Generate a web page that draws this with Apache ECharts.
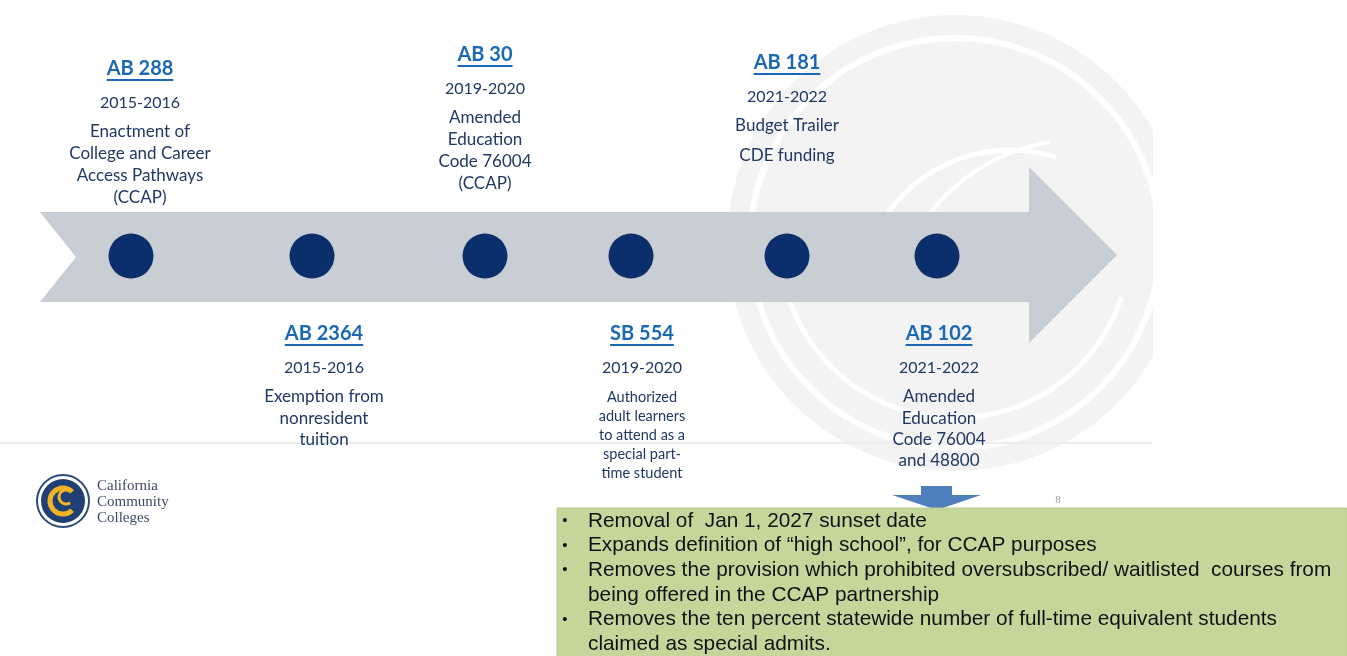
<!DOCTYPE html>
<html>
<head>
<meta charset="utf-8">
<script src="https://cdn.jsdelivr.net/npm/echarts@6/dist/echarts.min.js"></script>
<style>
  html, body { margin: 0; padding: 0; background: #fff; }
  #chart { width: 1347px; height: 656px; }
</style>
</head>
<body>
<div id="chart"></div>
<script>
// timeline data
const bills = ["AB 288", "AB 2364", "AB 30", "SB 554", "AB 181", "AB 102"];
const years = ["2015-2016", "2015-2016", "2019-2020", "2019-2020", "2021-2022", "2021-2022"];
const notes = [
  ["Enactment of", "College and Career", "Access Pathways", "(CCAP)"],
  ["Exemption from", "nonresident", "tuition"],
  ["Amended", "Education", "Code 76004", "(CCAP)"],
  ["Authorized", "adult learners", "to attend as a", "special part-", "time student"],
  ["Budget Trailer", "CDE funding"],
  ["Amended", "Education", "Code 76004", "and 48800"],
];
// position of each milestone along the arrow
const timelinePos = [131, 312, 485, 631, 787, 937];
const amendments = [
  ["Removal of  Jan 1, 2027 sunset date"],
  ["Expands definition of \u201chigh school\u201d, for CCAP purposes"],
  ["Removes the provision which prohibited oversubscribed/ waitlisted  courses from", "being offered in the CCAP partnership"],
  ["Removes the ten percent statewide number of full-time equivalent students", "claimed as special admits."],
];
const logoLines = ["California", "Community", "Colleges"];

// layout (pixels)
const W = 1347, H = 656;
const arrowY = 256;
const labelLayout = [
  { x: 140, top: 69, gap: 21.7, size: 17 },
  { x: 324, top: 334, gap: 21.5, size: 17 },
  { x: 485, top: 55, gap: 21.7, size: 17 },
  { x: 642, top: 334, gap: 19, size: 14.5 },
  { x: 787, top: 63, gap: 30, size: 17 },
  { x: 939, top: 334, gap: 21.2, size: 17 },
];
const textFont = "Lato, 'Open Sans', sans-serif";
const navy = "#1f3864";

const measureCtx = document.createElement("canvas").getContext("2d");
function textWidth(str, font) {
  measureCtx.font = font;
  return measureCtx.measureText(str).width;
}

const chart = echarts.init(document.getElementById("chart"), null, { renderer: "canvas" });

function renderLabel(params, api) {
  const i = params.dataIndex;
  const L = labelLayout[i];
  const p = api.coord([L.x, L.top]);
  const titleFont = "bold 20px " + textFont;
  const tw = textWidth(bills[i], titleFont);
  const children = [
    {
      type: "text",
      style: {
        x: p[0], y: p[1], text: bills[i], font: titleFont,
        fill: "#1a68b6", align: "center", verticalAlign: "middle",
      },
    },
    {
      type: "line",
      shape: { x1: p[0] - tw / 2, y1: p[1] + 11, x2: p[0] + tw / 2, y2: p[1] + 11 },
      style: { stroke: "#1a68b6", lineWidth: 1.8 },
    },
    {
      type: "text",
      style: {
        x: p[0], y: p[1] + 34, text: years[i], font: "16px " + textFont,
        fill: navy, align: "center", verticalAlign: "middle",
      },
    },
  ];
  notes[i].forEach((line, k) => {
    children.push({
      type: "text",
      style: {
        x: p[0], y: p[1] + 63 + k * L.gap, text: line, font: L.size + "px " + textFont,
        fill: navy, align: "center", verticalAlign: "middle",
      },
    });
  });
  return { type: "group", children };
}

// background watermark + decorations
const graphics = [
  { type: "circle", shape: { cx: 955, cy: 243, r: 228 }, style: { fill: "#f3f3f3" }, z: -10 },
  { type: "circle", shape: { cx: 955, cy: 243, r: 205 }, style: { fill: null, stroke: "#fff", lineWidth: 6 }, z: -9 },
  { type: "arc", shape: { cx: 955, cy: 243, r: 175, startAngle: Math.PI * 0.1, endAngle: Math.PI * 0.95 }, style: { stroke: "#fff", lineWidth: 5, fill: null }, z: -9 },
  { type: "arc", shape: { cx: 1010, cy: 300, r: 150, startAngle: Math.PI * 1.05, endAngle: Math.PI * 1.6 }, style: { stroke: "#fff", lineWidth: 5, fill: null }, z: -9 },
  { type: "arc", shape: { cx: 1080, cy: 330, r: 190, startAngle: Math.PI * 1.1, endAngle: Math.PI * 1.45 }, style: { stroke: "#fff", lineWidth: 4, fill: null }, z: -9 },
  { type: "rect", shape: { x: 1153, y: 0, width: 200, height: 480 }, style: { fill: "#fff" }, z: -8 },
  { type: "line", shape: { x1: 0, y1: 443, x2: 1152, y2: 443 }, style: { stroke: "#ececec", lineWidth: 2 }, z: -8 },
  // timeline arrow
  {
    type: "polygon",
    shape: {
      points: [[40, arrowY - 44], [1029, arrowY - 44], [1029, arrowY - 89], [1117, arrowY - 1],
        [1029, arrowY + 87], [1029, arrowY + 46], [40, arrowY + 46], [76, arrowY + 1]],
    },
    style: { fill: "#c9cdd4" }, z: -5,
  },
  // down arrow pointing to box
  {
    type: "polygon",
    shape: { points: [[921, 486], [952, 486], [952, 495], [981, 495], [937, 510], [892, 495], [921, 495]] },
    style: { fill: "#4f7fbd" },
  },
  { type: "text", style: { x: 1058, y: 500, text: "8", font: "11px 'Liberation Serif'", fill: "#9a9a9a", align: "center", verticalAlign: "middle" } },
  // logo
  { type: "circle", shape: { cx: 63, cy: 501, r: 26 }, style: { fill: "#fff", stroke: "#2b4a7a", lineWidth: 2 } },
  { type: "circle", shape: { cx: 63, cy: 501, r: 22 }, style: { fill: "#1f3f75" } },
  { type: "arc", shape: { cx: 63, cy: 501, r: 13, startAngle: Math.PI * 0.25, endAngle: Math.PI * 1.75, clockwise: true }, style: { stroke: "#f0b323", lineWidth: 5, fill: null } },
  { type: "arc", shape: { cx: 66, cy: 497, r: 7, startAngle: Math.PI * 0.3, endAngle: Math.PI * 1.7 }, style: { stroke: "#f0b323", lineWidth: 3, fill: null } },
];
logoLines.forEach((t, k) => {
  graphics.push({
    type: "text",
    style: { x: 97, y: 486 + k * 16, text: t, font: "15px 'Liberation Serif', serif", fill: "#3d4a68", verticalAlign: "middle" },
  });
});
// green amendment box
graphics.push({ type: "rect", shape: { x: 557, y: 508, width: 790, height: 150 }, style: { fill: "#c4d79b", stroke: "#b8cc8c", lineWidth: 1 } });
let row = 0;
amendments.forEach((item) => {
  item.forEach((line, k) => {
    const y = 521 + row * 24.6;
    if (k === 0) {
      graphics.push({ type: "text", style: { x: 565, y: y, text: "\u2022", font: "15px 'Liberation Sans'", fill: "#111", align: "center", verticalAlign: "middle" } });
    }
    graphics.push({ type: "text", style: { x: 588, y: y, text: line, font: "20.8px 'Liberation Sans', Arial, sans-serif", fill: "#111", verticalAlign: "middle" } });
    row++;
  });
});

const option = {
  animation: false,
  backgroundColor: "#fff",
  grid: { left: 0, right: 0, top: 0, bottom: 0 },
  xAxis: { type: "value", min: 0, max: W, show: false },
  yAxis: { type: "value", min: 0, max: H, inverse: true, show: false },
  graphic: graphics,
  series: [
    {
      type: "scatter",
      symbol: "circle",
      symbolSize: 45,
      itemStyle: { color: "#0b2f6c", opacity: 1 },
      data: timelinePos.map((x) => [x, arrowY]),
      z: 3,
    },
    {
      type: "custom",
      renderItem: renderLabel,
      data: bills.map((b, i) => [labelLayout[i].x, labelLayout[i].top]),
      z: 4,
    },
  ],
};
option && chart.setOption(option);
</script>
</body>
</html>
